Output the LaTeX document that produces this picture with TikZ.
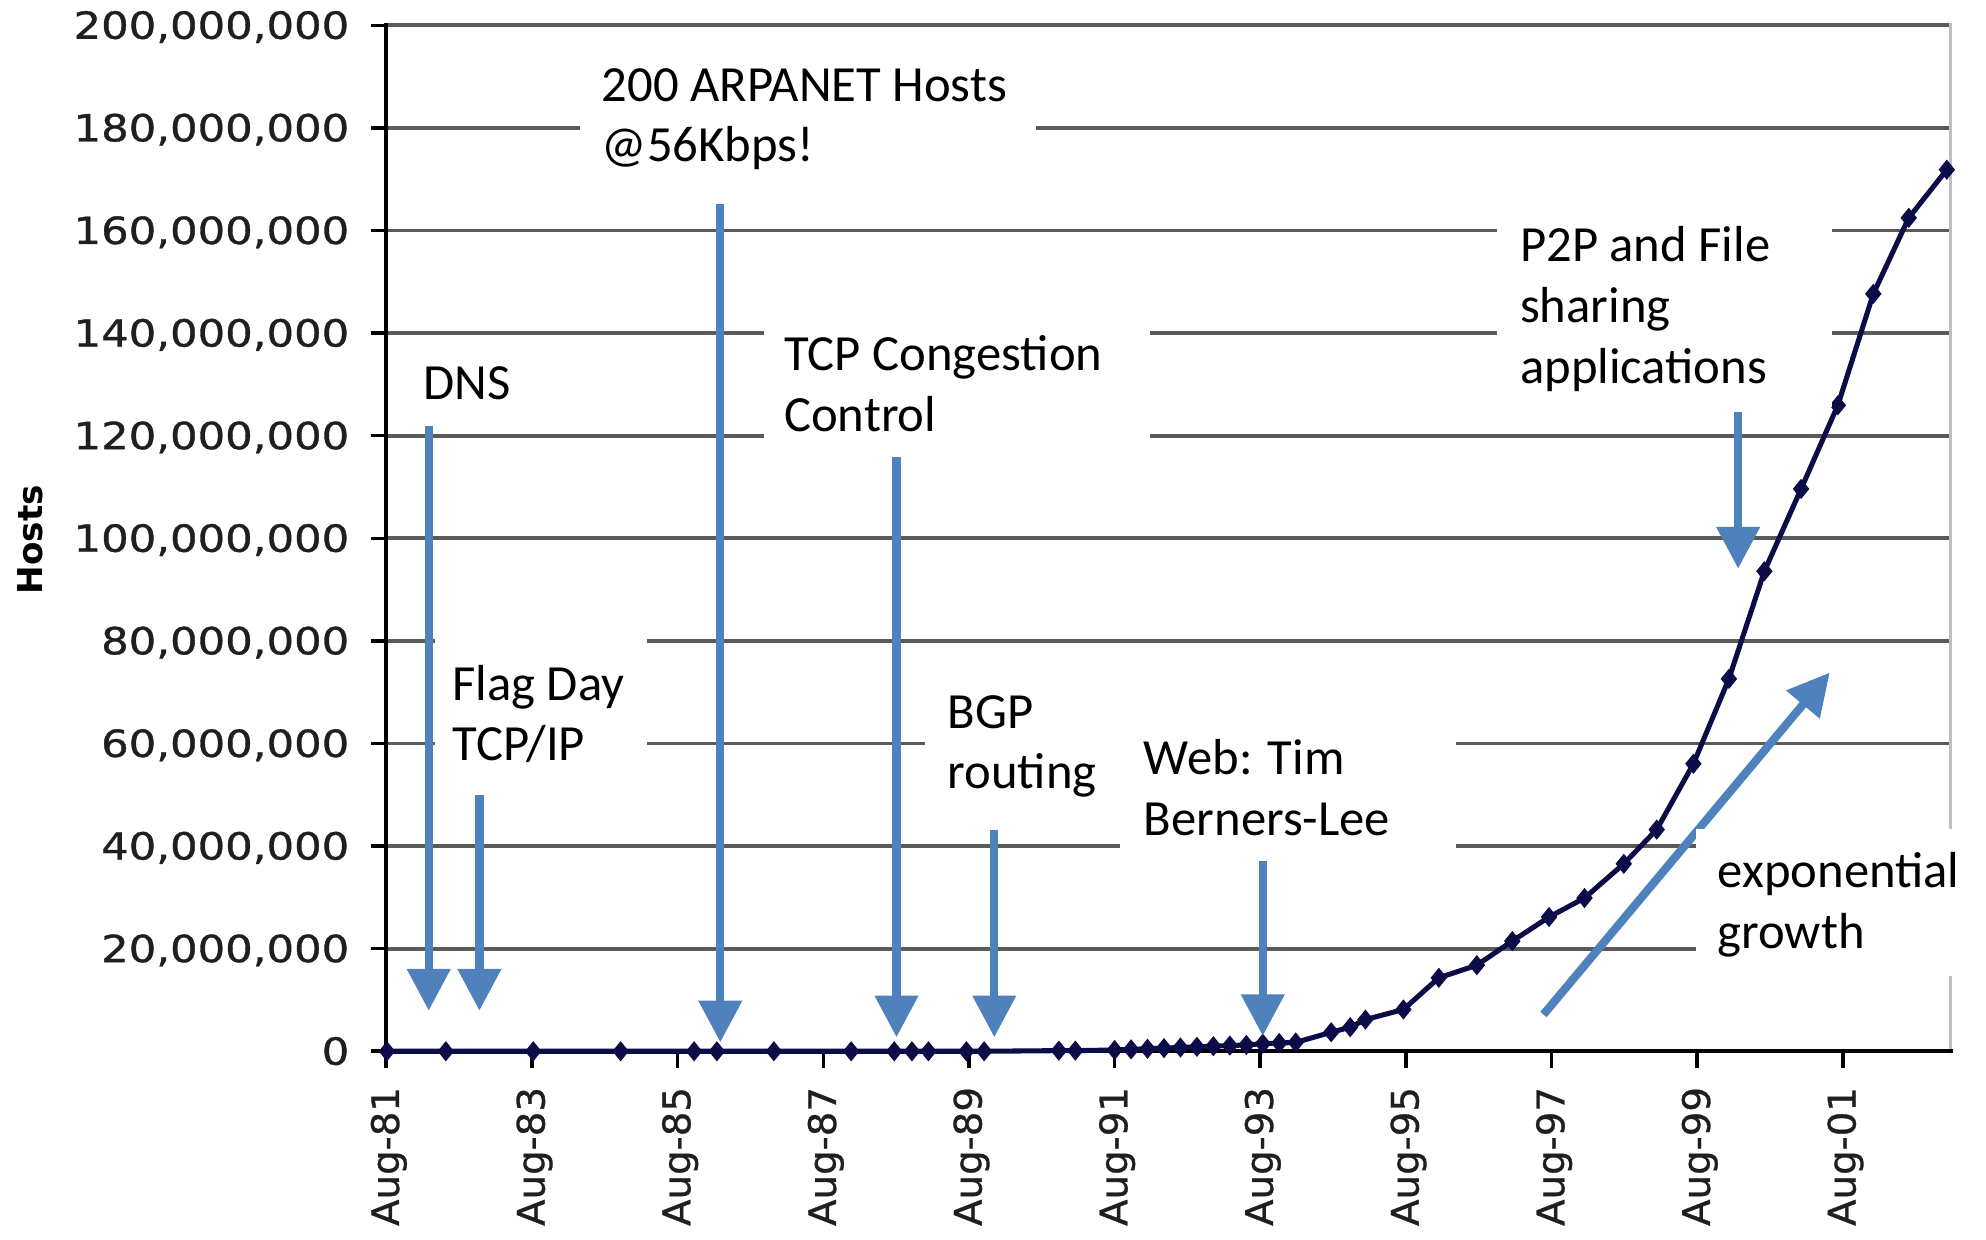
\documentclass[tikz,border=0pt]{standalone}
\usepackage{graphicx}
\usepackage{fontspec}
\usetikzlibrary{arrows.meta}
\newfontfamily\calfont{Carlito}
\newfontfamily\axfont[FakeBold=0.8]{DejaVu Sans}
\newfontfamily\axtitlefont{DejaVu Sans Bold}
\definecolor{gridgray}{HTML}{5A5A5A}
\definecolor{noteblue}{HTML}{4F81BD}
\definecolor{seriesnavy}{HTML}{0C0C48}

% Internet host counts, Aug-81 .. Aug-02 (x in px, y in px, y downward)
\def\hostdata{352/830, 421/830, 490/830, 548/830, 566/830, 611/830, 672/830,
  706/830, 720/830, 733/830, 763/830, 777/830, 836/829.5, 849/829.5,
  880/829, 893/828.5, 906/828, 919/827.5, 932/827, 945/826.5, 958/826,
  971/825.5, 984/825, 997/824, 1010/823.5, 1023/823, 1051/815, 1066/811,
  1078/805, 1108/797, 1136/772, 1166/762, 1194/743, 1223/724, 1251/709,
  1282/682, 1308/655, 1337/603, 1365/536, 1393/451, 1422/386, 1451/320,
  1479/232, 1507/172, 1537/134}

\begin{document}
\begin{tikzpicture}[x=1pt,y=-1pt,
  grid/.style={gridgray, line width=3pt},
  axisline/.style={black, line width=3.2pt},
  tickline/.style={black, line width=2.8pt},
  series/.style={seriesnavy, line width=4pt, line join=round},
  ylab/.style={anchor=base east, inner sep=0pt, text=black!88,
    font=\axfont\fontsize{29.5}{34}\selectfont},
  xlab/.style={anchor=east, rotate=90, inner sep=0pt, text=black!88,
    font=\axfont\fontsize{30}{34}\selectfont},
  note/.style={anchor=north west, inner sep=0pt, align=left,
    font=\calfont\fontsize{40}{48}\selectfont},
  mask/.style={anchor=north west, fill=white, draw=none, inner sep=0pt},
  pointer/.style={noteblue, line width=6.5pt,
    -{Triangle[length=33pt,width=33pt]}},
]
\useasboundingbox (0,0) rectangle (1568,979);
\fill[white] (0,0) rectangle (1568,979);

% horizontal grid and right frame
\foreach \k in {0,...,9}
  \draw[grid] (305,{20+81*\k}) -- (1540,{20+81*\k});
\draw[black!25, line width=2pt] (1540,18) -- (1540,830);

% axes and ticks
\foreach \k in {0,...,10}
  \draw[tickline] (293,{20+81*\k}) -- (305,{20+81*\k});
\foreach \k in {0,...,10}
  \draw[tickline] ({305+115*\k},830) -- ({305+115*\k},843);
\draw[axisline] (305,18) -- (305,843);
\draw[axisline] (293,830) -- (1542,830);

% y labels
\foreach \v [count=\k from 0] in {200,180,160,140,120,100,80,60,40,20}
  \node[ylab] (ylab\v) at (276,{20+81*\k+10.6}) {\scalebox{1.16}[1]{\v,000,000}};
\node[ylab] (ylab0) at (276,840.6) {\scalebox{1.16}[1]{0}};
\node[rotate=90, inner sep=0pt, font=\axtitlefont\fontsize{27}{32}\selectfont]
  (ytitle) at (24,426) {Hosts};

% x labels
\foreach \yr [count=\k from 0] in {81,83,85,87,89,91,93,95,97,99,01}
  \node[xlab] (xlab\k) at ({307+115*\k},858) {\scalebox{1.02}[1]{Aug-\yr}};

% data series
\draw[series] (305.5,830) \foreach \px/\py in \hostdata {-- (\px,\py)};
\foreach \px/\py in {305.5/830}
  \fill[seriesnavy] (\px,\py) +(0,-8) -- +(6.5,0) -- +(0,8) -- +(-6.5,0) -- cycle;
\foreach \px/\py in \hostdata
  \fill[seriesnavy] (\px,\py) +(0,-8) -- +(6.5,0) -- +(0,8) -- +(-6.5,0) -- cycle;

% pointer ends
\coordinate (dnsTail) at (338.5,336);   \coordinate (dnsHead) at (338.5,798);
\coordinate (flagTail) at (378.5,628);  \coordinate (flagHead) at (378.5,798);
\coordinate (arpaTail) at (568.7,161);  \coordinate (arpaHead) at (568.7,823);
\coordinate (tcpTail) at (707.8,361);   \coordinate (tcpHead) at (707.8,819);
\coordinate (bgpTail) at (785,655);     \coordinate (bgpHead) at (785,819);
\coordinate (webTail) at (997,680);     \coordinate (webHead) at (997,818);
\coordinate (p2pTail) at (1372.3,325);  \coordinate (p2pHead) at (1372.3,449);
\coordinate (expTail) at (1218.6,801);  \coordinate (expHead) at (1444.6,531);

\draw[pointer] (dnsTail) -- (dnsHead);
\draw[pointer] (flagTail) -- (flagHead);
\draw[pointer] (arpaTail) -- (arpaHead);
\draw[pointer] (tcpTail) -- (tcpHead);
\draw[pointer] (bgpTail) -- (bgpHead);
\draw[pointer] (webTail) -- (webHead);
\draw[pointer] (p2pTail) -- (p2pHead);
\draw[pointer] (expTail) -- (expHead);

% white backings of the annotations
\node[mask, minimum width=360pt, minimum height=114pt] (arpaBox) at (458,38) {};
\node[mask, minimum width=305pt, minimum height=115pt] (tcpBox) at (603,243) {};
\node[mask, minimum width=168pt, minimum height=120pt] (flagBox) at (343,502) {};
\node[mask, minimum width=154pt, minimum height=118pt] (bgpBox) at (730,527) {};
\node[mask, minimum width=265pt, minimum height=116pt] (webBox) at (884,562) {};
\node[mask, minimum width=264pt, minimum height=165pt] (p2pBox) at (1182,156) {};
\node[mask, minimum width=229pt, minimum height=116pt] (expBox) at (1339,654) {};

% annotations
\node[note] (arpaText) at (475,46) {\strut 200 ARPANET Hosts\\@56Kbps!};
\node[note] (tcpText) at (619,259) {\strut TCP Congestion\\Control};
\node[note] (dnsText) at (334,282) {\strut DNS};
\node[note] (flagText) at (357,519) {\strut Flag Day\\TCP/IP};
\node[note] (bgpText) at (748,541) {\strut BGP\\routing};
\node[note] (webText) at (903,578) {\strut Web: Tim\\Berners-Lee};
\node[note] (p2pText) at (1200,173) {\strut P2P and File\\sharing\\applications};
\node[note] (expText) at (1356,667) {\strut exponential\\growth};
\end{tikzpicture}
\end{document}
